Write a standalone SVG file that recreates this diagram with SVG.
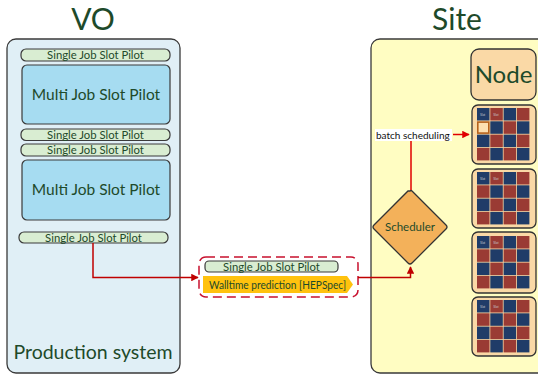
<svg xmlns="http://www.w3.org/2000/svg" width="538" height="374" viewBox="0 0 538 374">
<defs>
<style>
.t{font-family:Lato,"Liberation Sans",sans-serif;fill:#1e4a2a}
.sp{fill:#d9edd2;stroke:#3a3a3a;stroke-width:1.2}
.mp{fill:#a6dcf1;stroke:#3a3a3a;stroke-width:1.2}
.st{font-size:11.3px;text-anchor:middle}
.mt{font-size:15.5px;text-anchor:middle}
.nb{fill:#fad9a6;stroke:#333;stroke-width:1.3}
.b{fill:#203c68}
.r{fill:#9a3b34}
.sl{font-family:"Liberation Sans",sans-serif;font-size:3px;fill:#c8c8d0}
.con{fill:none;stroke:#c00000;stroke-width:1.5}
</style>
<marker id="ah" viewBox="0 0 10 10" refX="9" refY="5" markerWidth="5" markerHeight="5" orient="auto">
<path d="M0,0 L10,5 L0,10 z" fill="#c00000"/>
</marker>
<marker id="ah2" viewBox="0 0 10 10" refX="9" refY="5" markerWidth="5" markerHeight="5" orient="auto">
<path d="M0,0 L10,5 L0,10 z" fill="#e00000"/>
</marker>
<g id="grid">
<rect class="b" x="477" y="0" width="12.5" height="12.5"/>
<rect class="r" x="490.3" y="0" width="12.5" height="12.5"/>
<rect class="b" x="503.6" y="0" width="12.5" height="12.5"/>
<rect class="r" x="516.9" y="0" width="12.5" height="12.5"/>
<text class="sl" x="480" y="7.5">Slot</text>
<text class="sl" x="493.3" y="7.5">Slot</text>
<rect class="b" x="490.3" y="13.3" width="12.5" height="12.5"/>
<rect class="r" x="503.6" y="13.3" width="12.5" height="12.5"/>
<rect class="b" x="516.9" y="13.3" width="12.5" height="12.5"/>
<rect class="b" x="477" y="26.6" width="12.5" height="12.5"/>
<rect class="r" x="490.3" y="26.6" width="12.5" height="12.5"/>
<rect class="b" x="503.6" y="26.6" width="12.5" height="12.5"/>
<rect class="r" x="516.9" y="26.6" width="12.5" height="12.5"/>
<rect class="r" x="477" y="39.9" width="12.5" height="12.5"/>
<rect class="b" x="490.3" y="39.9" width="12.5" height="12.5"/>
<rect class="r" x="503.6" y="39.9" width="12.5" height="12.5"/>
<rect class="b" x="516.9" y="39.9" width="12.5" height="12.5"/>
</g>
</defs>
<rect width="538" height="374" fill="#ffffff"/>

<g id="vo">
<text class="t" x="93" y="30" font-size="30" text-anchor="middle">VO</text>
<rect x="7" y="39" width="173" height="334" rx="9" fill="#e0eff6" stroke="#3a3a3a" stroke-width="1.3"/>
<text class="t" x="93" y="359" font-size="19.5" text-anchor="middle">Production system</text>
</g>
<g id="sjsp1"><rect class="sp" x="21" y="49" width="149" height="12" rx="5"/><text class="t st" x="95.5" y="59">Single Job Slot Pilot</text></g>
<g id="mjsp1"><rect class="mp" x="22" y="65" width="148" height="59" rx="5"/><text class="t mt" x="96" y="100">Multi Job Slot Pilot</text></g>
<g id="sjsp2"><rect class="sp" x="21" y="129" width="149" height="11.5" rx="5"/><text class="t st" x="95.5" y="138.7">Single Job Slot Pilot</text></g>
<g id="sjsp3"><rect class="sp" x="21" y="144" width="149" height="12" rx="5"/><text class="t st" x="95.5" y="154">Single Job Slot Pilot</text></g>
<g id="mjsp2"><rect class="mp" x="22" y="160" width="148" height="60" rx="5"/><text class="t mt" x="96" y="195">Multi Job Slot Pilot</text></g>
<g id="sjsp4"><rect class="sp" x="19" y="232" width="149" height="11" rx="5"/><text class="t st" x="93.5" y="241.5">Single Job Slot Pilot</text></g>

<g id="site">
<text class="t" x="457" y="30" font-size="30" text-anchor="middle">Site</text>
<rect x="371" y="39" width="200" height="334" rx="9" fill="#fffdc2" stroke="#3a3a3a" stroke-width="1.3"/>
</g>

<g id="job">
<rect x="199" y="257" width="159" height="40" rx="7" fill="none" stroke="#c8102e" stroke-width="1.5" stroke-dasharray="9,5"/>
<rect class="sp" x="205" y="261" width="133" height="11" rx="4"/>
<text class="t st" x="271.5" y="270.5">Single Job Slot Pilot</text>
<path d="M203,276 L347,276 L353,284.5 L347,293 L203,293 Z" fill="#ffc20e"/>
<text class="t" x="209" y="288.5" font-size="10.5" textLength="137" lengthAdjust="spacingAndGlyphs">Walltime prediction [HEPSpec]</text>
</g>

<g id="scheduler">
<path d="M410,191 Q411,190 412,191 L446,225 Q448,227 446,229 L412,263 Q410,265 408,263 L374,229 Q372,227 374,225 L408,191 Z" fill="#f3b15a" stroke="#333" stroke-width="1.3"/>
<text class="t" x="410" y="231" font-size="11.5" text-anchor="middle">Scheduler</text>
</g>

<g id="node-label">
<rect class="nb" x="471" y="49" width="65" height="51" rx="8"/>
<text class="t" x="503.5" y="83" font-size="24" text-anchor="middle">Node</text>
</g>
<g id="node1">
<rect class="nb" x="472" y="105" width="64" height="59" rx="6"/>
<use href="#grid" y="108"/>
<rect x="477.8" y="122.1" width="11" height="11" fill="#fde0b0" stroke="#b5611c" stroke-width="1.6"/>
</g>
<g id="node2">
<rect class="nb" x="472" y="169" width="64" height="59" rx="6"/>
<use href="#grid" y="172"/>
<rect class="r" x="477" y="185.3" width="12.5" height="12.5"/>
</g>
<g id="node3">
<rect class="nb" x="472" y="232" width="64" height="61" rx="6"/>
<use href="#grid" y="236"/>
<rect class="r" x="477" y="249.3" width="12.5" height="12.5"/>
</g>
<g id="node4">
<rect class="nb" x="472" y="297" width="64" height="59" rx="6"/>
<use href="#grid" y="300"/>
<rect class="r" x="477" y="313.3" width="12.5" height="12.5"/>
</g>

<g id="connectors">
<path class="con" d="M93,243 L93,277.5 L198,277.5" marker-end="url(#ah)"/>
<path class="con" d="M358,277.5 L410.5,277.5 L410.5,267" marker-end="url(#ah)"/>
<path d="M411,190 L411,141" fill="none" stroke="#e00000" stroke-width="1.5"/>
<rect x="375" y="129" width="77" height="12" fill="#ffffff"/>
<text x="376" y="138.5" font-family="Lato, Liberation Sans, sans-serif" font-size="10" fill="#111">batch scheduling</text>
<path d="M453,134.5 L469,134.5" fill="none" stroke="#e00000" stroke-width="1.5" marker-end="url(#ah2)"/>
</g>
</svg>
